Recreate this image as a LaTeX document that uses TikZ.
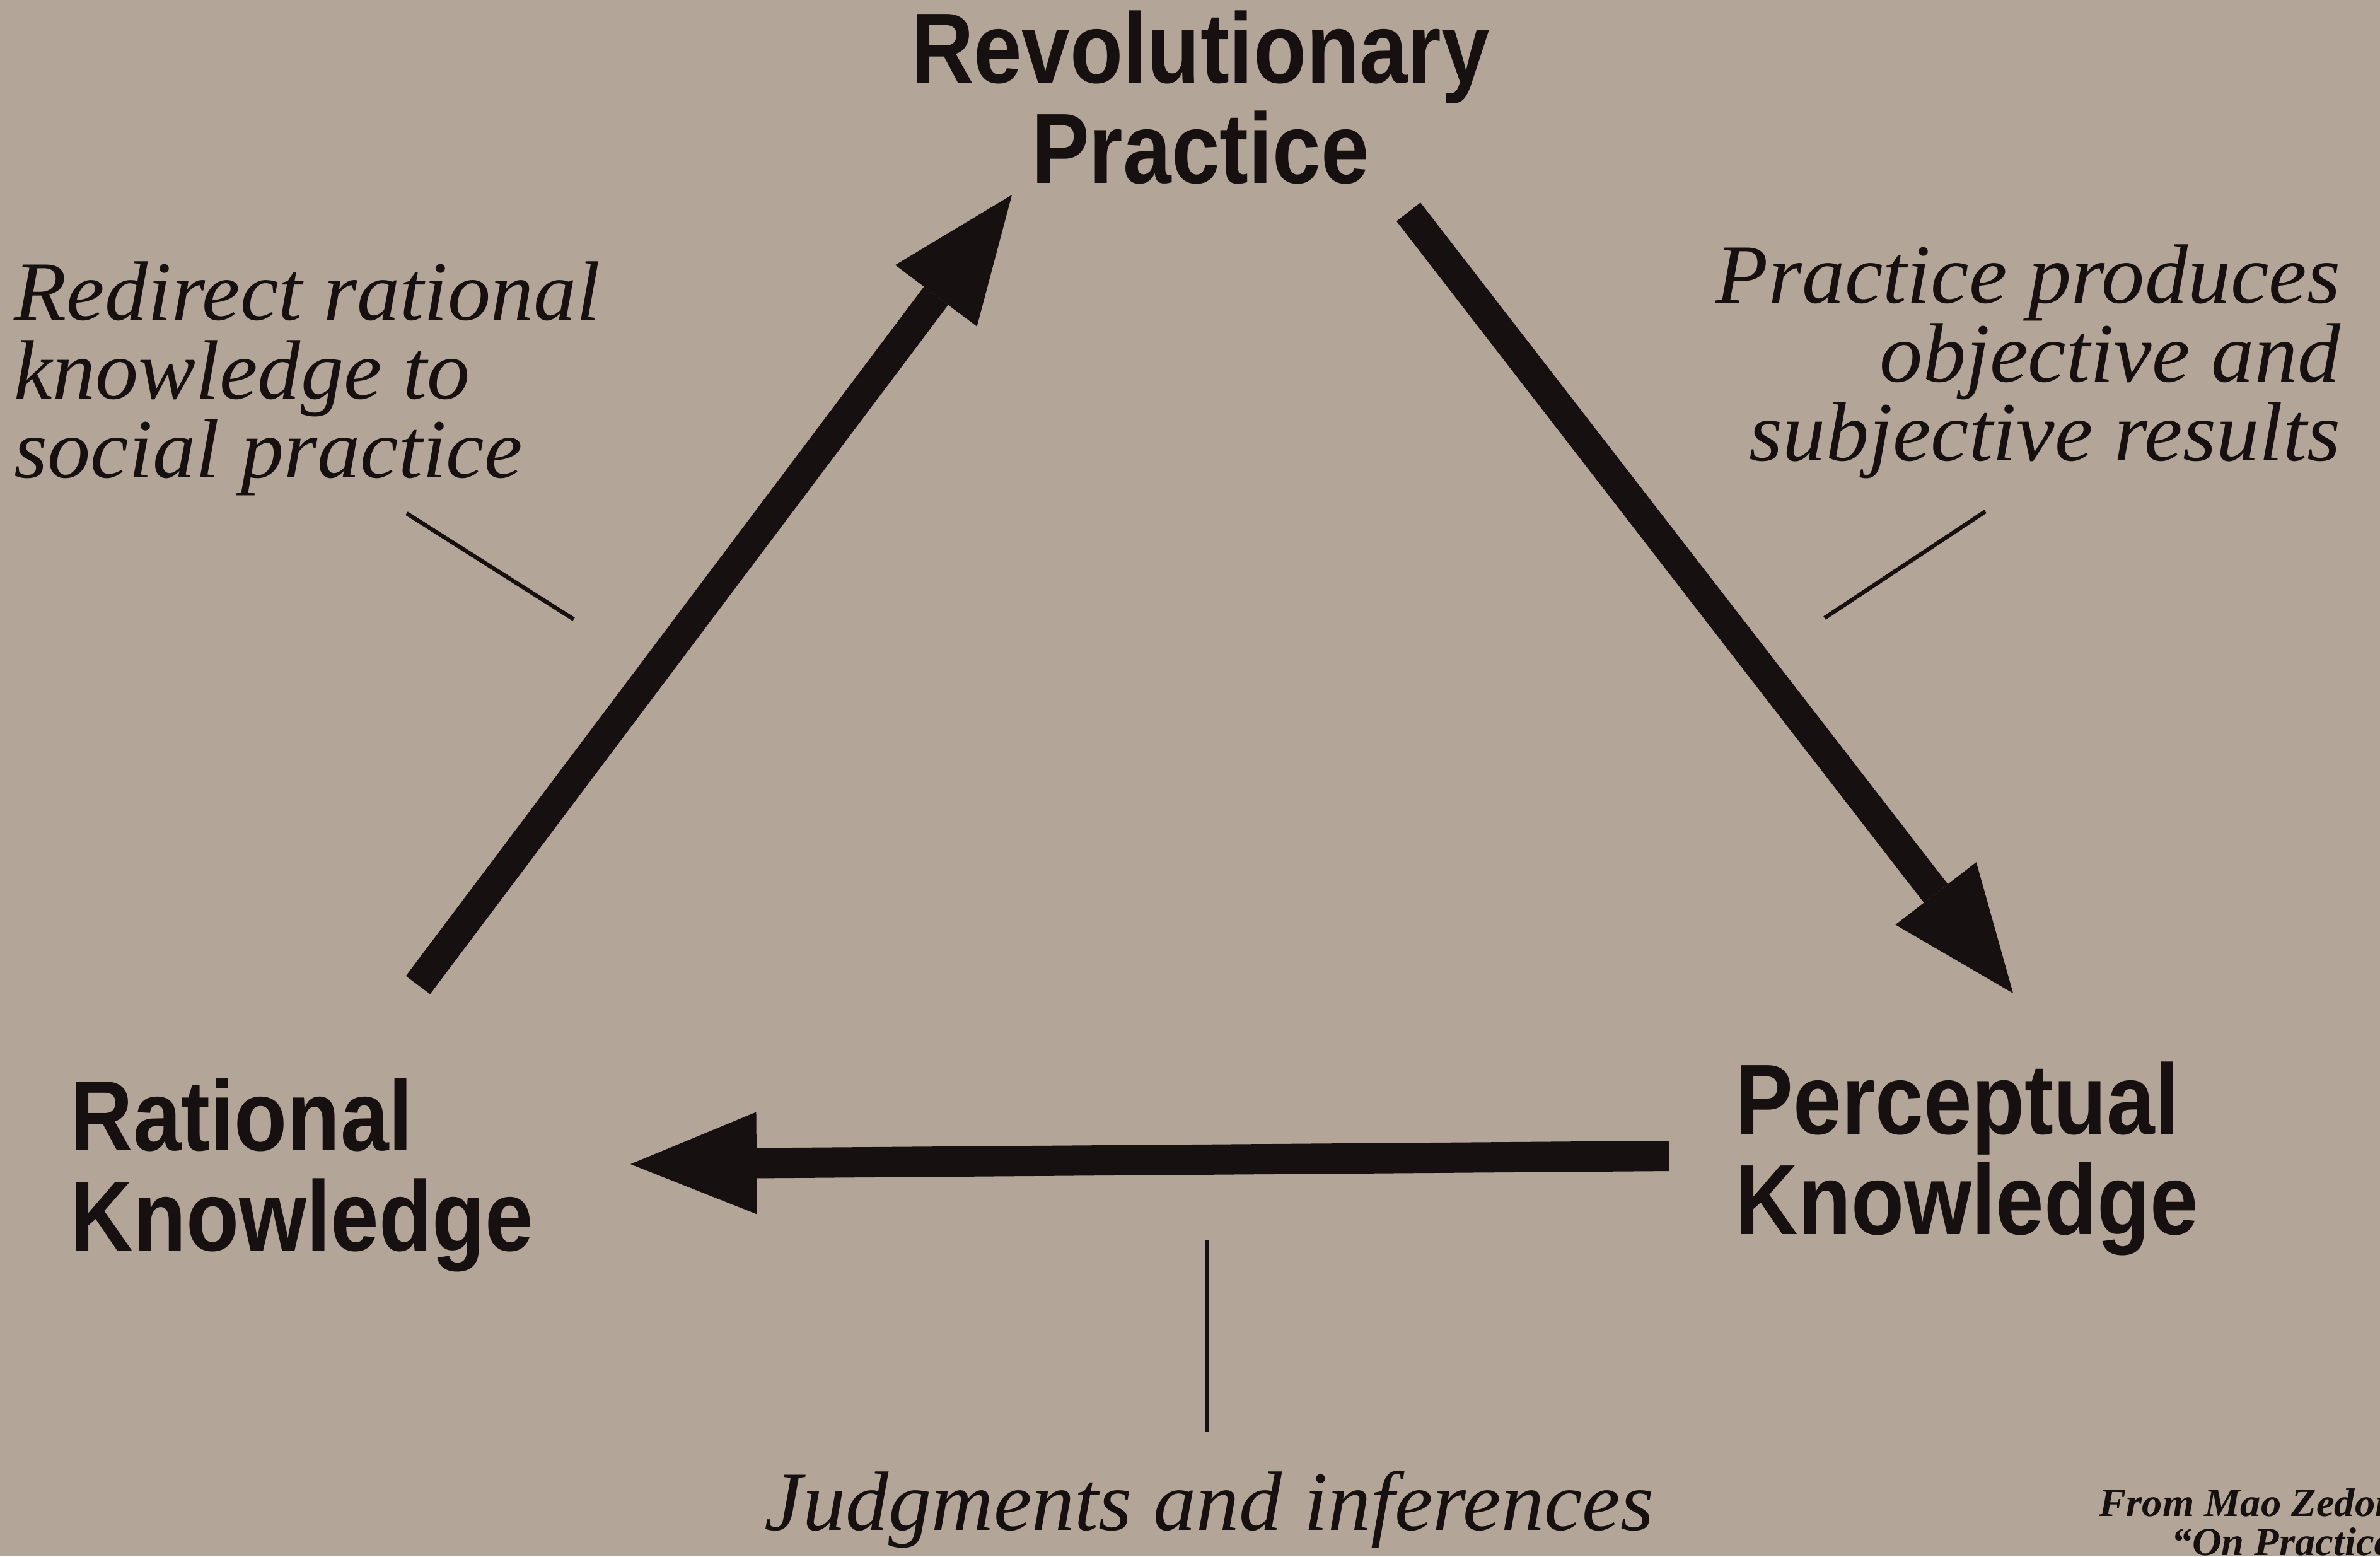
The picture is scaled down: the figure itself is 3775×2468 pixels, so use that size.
\documentclass[tikz,border=0pt]{standalone}
\usepackage{fontspec}
\setmainfont{Liberation Serif}[FakeStretch=1.02]
\newfontfamily\headfont[FakeStretch=0.87]{Liberation Sans}
\usetikzlibrary{arrows.meta}

\definecolor{paper}{RGB}{179,165,151}
\definecolor{ink}{RGB}{22,17,16}

\tikzset{
  stage/.style={inner sep=0pt, text=ink, font=\headfont\bfseries\fontsize{45}{45}\selectfont},
  gloss/.style={inner sep=0pt, text=ink, font=\itshape\fontsize{38}{35.5}\selectfont},
  source/.style={inner sep=0pt, text=ink, font=\bfseries\itshape\fontsize{18}{17.5}\selectfont},
  flow/.style={->, line width=0.48cm, draw=ink},
  leader/.style={line width=0.065cm, draw=ink},
}

\begin{document}
\begin{tikzpicture}[x=0.01cm, y=-0.01cm, >={Triangle[length=2cm, width=1.62cm, line width=0pt]}]
\useasboundingbox (0,0) rectangle (3775,2468);
\fill[paper] (0,0) rectangle (3775,2468);

% the three stages
\node [stage, align=center, anchor=base] (RP) at (1904,290) {Revolutionary\\Practice};
\node [stage, align=left, anchor=base west] (RK) at (111,1983) {Rational\\Knowledge};
\node [stage, align=left, anchor=base west] (PK) at (2752,1957) {Perceptual\\Knowledge};

% what happens on each side
\node [gloss, align=left, anchor=base west] (RR) at (22,757) {Redirect rational\\knowledge to\\social practice};
\node [gloss, align=right, anchor=base east] (PP) at (3713,730) {Practice produces\\objective and\\subjective results};
\node [gloss, anchor=base] (JI) at (1918,2426) {Judgments and inferences};
\node [source, align=left, anchor=base west] (ZD) at (3329,2466) {From Mao Zedong\\\hspace*{1.15cm}“On Practice”};

\draw[flow] ([shift={(552,-421)}]RK.base west) -- ([shift={(-299,19)}]RP.base);
\draw[flow] ([shift={(330,46)}]RP.base) -- ([shift={(441,-382)}]PK.base west);
\draw[flow] ([shift={(-105,-124)}]PK.base west) -- ([shift={(889,-137)}]RK.base west);

\draw[leader] ([shift={(623,57)}]RR.base west) -- ([shift={(888,225)}]RR.base west);
\draw[leader] ([shift={(-564,81)}]PP.base east) -- ([shift={(-819,250)}]PP.base east);
\draw[leader] ([shift={(-3,-459)}]JI.base) -- ([shift={(-3,-155)}]JI.base);
\end{tikzpicture}
\end{document}
